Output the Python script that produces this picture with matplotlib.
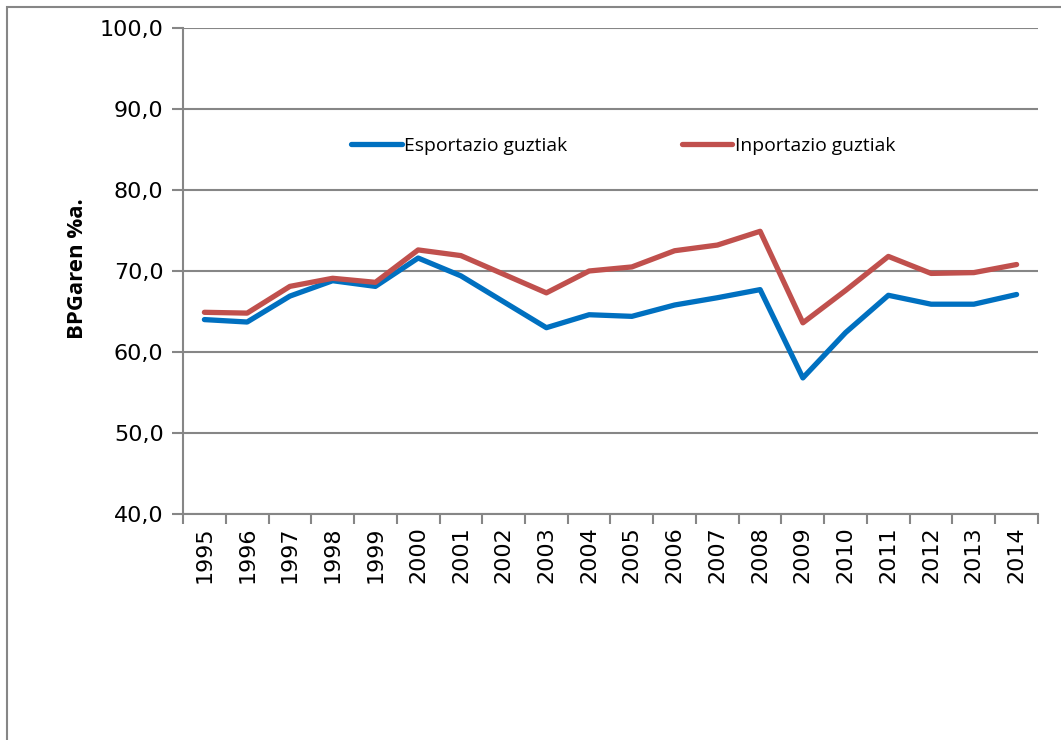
import matplotlib
matplotlib.use("Agg")
import matplotlib.pyplot as plt
from matplotlib.patches import Rectangle
from matplotlib.lines import Line2D

# Data
urteak = ["1995", "1996", "1997", "1998", "1999", "2000", "2001", "2002", "2003", "2004",
          "2005", "2006", "2007", "2008", "2009", "2010", "2011", "2012", "2013", "2014"]
esportazioak = [64.0, 63.7, 66.9, 68.8, 68.1, 71.6, 69.4, 66.2, 63.0, 64.6,
                64.4, 65.8, 66.7, 67.7, 56.8, 62.4, 67.0, 65.9, 65.9, 67.1]
inportazioak = [64.9, 64.8, 68.1, 69.1, 68.6, 72.6, 71.9, 69.6, 67.3, 70.0,
                70.5, 72.5, 73.2, 74.9, 63.6, 67.6, 71.8, 69.7, 69.8, 70.8]
y_ticks = [40, 50, 60, 70, 80, 90, 100]

blue = "#0070C0"
red = "#C0504D"
grey = "#868686"

fig = plt.figure(figsize=(10.61, 7.40), dpi=100)
ax = fig.add_axes([0.1725, 0.3054, 0.8058, 0.6568])

# outer frame (only left/top visible)
fig.patches.append(Rectangle((7 / 1061, -0.1), 1.2, 1 - 7 / 740 + 0.1,
                             transform=fig.transFigure, fill=False,
                             edgecolor=grey, linewidth=1.5))

x = list(range(len(urteak)))
ax.plot(x, esportazioak, color=blue, linewidth=3.8, solid_capstyle="round")
ax.plot(x, inportazioak, color=red, linewidth=3.8, solid_capstyle="round")

ax.set_xlim(-0.5, len(urteak) - 0.5)
ax.set_ylim(40, 100)
ax.set_yticks(y_ticks)
ax.set_yticklabels([f"{v:.1f}".replace(".", ",") for v in y_ticks], fontsize=16)
ax.set_xticks(x)
ax.set_xticklabels(urteak, rotation=90, fontsize=16)
ax.tick_params(axis="x", length=0, pad=9)
ax.set_xticks([i - 0.5 for i in range(len(urteak) + 1)], minor=True)
ax.tick_params(axis="x", which="minor", length=7, color=grey, width=1.5)
ax.tick_params(axis="y", length=8, color=grey, width=1.5, pad=6)

ax.grid(axis="y", color=grey, linewidth=1.5)
ax.set_axisbelow(True)
for s in ["top", "right"]:
    ax.spines[s].set_visible(False)
for s in ["left", "bottom"]:
    ax.spines[s].set_color(grey)
    ax.spines[s].set_linewidth(1.5)

ax.set_ylabel("BPGaren %a.", fontsize=16, fontweight="bold", family=["Open Sans", "DejaVu Sans"])
ax.yaxis.set_label_coords(-0.111, 0.505)

# legend
handles = [Line2D([], [], color=blue, linewidth=3.8, solid_capstyle="round"),
           Line2D([], [], color=red, linewidth=3.8, solid_capstyle="round")]
leg = ax.legend(handles, ["Esportazio guztiak", "Inportazio guztiak"], ncol=2,
                loc="center", bbox_to_anchor=(0.515, 0.757), frameon=False,
                handlelength=2.6, handletextpad=0.15, columnspacing=5.9,
                prop={"family": ["Open Sans", "DejaVu Sans"], "size": 13.9})

fig.savefig("out.png", dpi=100)
